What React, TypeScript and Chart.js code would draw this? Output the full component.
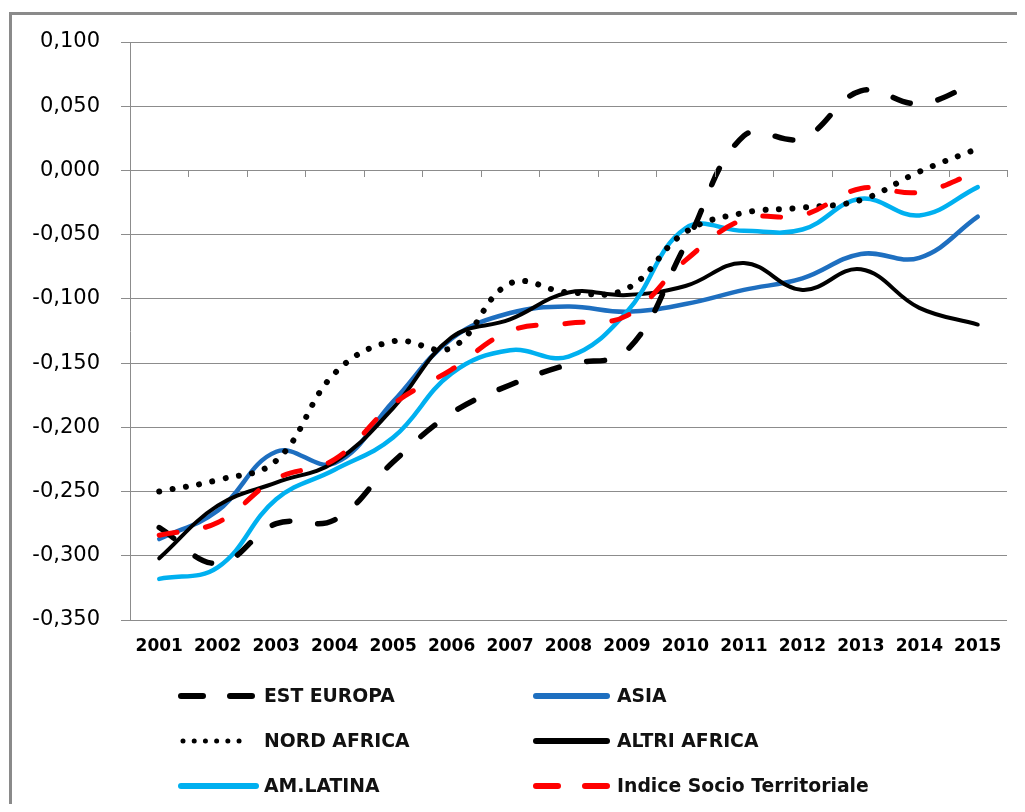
import React, { useEffect, useRef } from "react";
import { Chart, registerables } from "chart.js";

Chart.register(...registerables);

const years = ["2001", "2002", "2003", "2004", "2005", "2006", "2007", "2008", "2009", "2010", "2011", "2012", "2013", "2014", "2015"];

const estEuropa = [-0.278, -0.306, -0.275, -0.272, -0.227, -0.189, -0.167, -0.151, -0.140, -0.058, 0.027, 0.025, 0.062, 0.052, 0.069];
const asia = [-0.287, -0.265, -0.219, -0.228, -0.180, -0.131, -0.111, -0.106, -0.110, -0.104, -0.093, -0.084, -0.065, -0.068, -0.036];
const nordAfrica = [-0.250, -0.241, -0.226, -0.158, -0.133, -0.138, -0.088, -0.095, -0.092, -0.048, -0.033, -0.029, -0.023, -0.001, 0.017];
const altriAfrica = [-0.302, -0.261, -0.243, -0.227, -0.185, -0.130, -0.116, -0.095, -0.097, -0.090, -0.072, -0.093, -0.077, -0.107, -0.120];
const amLatina = [-0.318, -0.309, -0.256, -0.233, -0.208, -0.158, -0.140, -0.145, -0.110, -0.045, -0.047, -0.046, -0.022, -0.035, -0.013];
const indiceSocio = [-0.284, -0.274, -0.240, -0.225, -0.182, -0.155, -0.125, -0.119, -0.113, -0.070, -0.038, -0.035, -0.014, -0.017, -0.001];

const yTicks = { min: -0.35, max: 0.1, step: 0.05 };

const BLACK = "#000000";
const BLUE = "#1E6FC0";
const LIGHT_BLUE = "#00B0F0";
const RED = "#FF0000";
const GRID = "#8c8c8c";

type Style = { color: string; dash: number[]; width: number; legendDash: number[]; legendWidth: number };

const styles: Record<string, Style> = {
  est: { color: BLACK, dash: [18, 28], width: 5.5, legendDash: [22, 27], legendWidth: 6 },
  asia: { color: BLUE, dash: [], width: 4.5, legendDash: [], legendWidth: 6 },
  nord: { color: BLACK, dash: [0.01, 13.5], width: 6, legendDash: [0.01, 11.2], legendWidth: 5 },
  altri: { color: BLACK, dash: [], width: 4, legendDash: [], legendWidth: 6 },
  lat: { color: LIGHT_BLUE, dash: [], width: 4.5, legendDash: [], legendWidth: 6 },
  red: { color: RED, dash: [18, 29], width: 5, legendDash: [22, 27], legendWidth: 6 },
};

const legendItems: { label: string; key: string; col: number; row: number }[] = [
  { label: "EST EUROPA", key: "est", col: 0, row: 0 },
  { label: "ASIA", key: "asia", col: 1, row: 0 },
  { label: "NORD AFRICA", key: "nord", col: 0, row: 1 },
  { label: "ALTRI AFRICA", key: "altri", col: 1, row: 1 },
  { label: "AM.LATINA", key: "lat", col: 0, row: 2 },
  { label: "Indice Socio Territoriale", key: "red", col: 1, row: 2 },
];

const decor = {
  id: "decor",
  afterDraw(chart: any) {
    const ctx = chart.ctx as CanvasRenderingContext2D;
    const { chartArea, scales } = chart;
    const W = chart.width;
    const H = chart.height;
    // outer frame
    ctx.save();
    ctx.strokeStyle = "#8a8a8a";
    ctx.lineWidth = 3;
    ctx.beginPath();
    ctx.moveTo(2.5, H + 10);
    ctx.lineTo(2.5, 5.5);
    ctx.lineTo(W + 10, 5.5);
    ctx.stroke();
    ctx.restore();

    // x-axis tick marks at zero line
    const y0 = scales.y.getPixelForValue(0);
    const n = years.length;
    const step = (chartArea.right - chartArea.left) / n;
    ctx.save();
    ctx.strokeStyle = GRID;
    ctx.lineWidth = 1;
    ctx.beginPath();
    for (let i = 0; i <= n; i++) {
      const x = Math.round(chartArea.left + i * step) + 0.5;
      ctx.moveTo(x, Math.round(y0));
      ctx.lineTo(x, Math.round(y0) + 7);
    }
    ctx.stroke();
    ctx.restore();

    // legend
    const colX = [[170, 251, 256], [525, 602, 609]];
    const rowY = [688, 733, 778];
    for (const it of legendItems) {
      const st = styles[it.key];
      const [x1, x2, tx] = colX[it.col];
      const y = rowY[it.row];
      ctx.save();
      ctx.strokeStyle = st.color;
      ctx.lineWidth = st.legendWidth;
      ctx.lineCap = "round";
      ctx.setLineDash(st.legendDash);
      ctx.beginPath();
      if (it.key === "nord") {
        ctx.moveTo(175, y);
        ctx.lineTo(242, y);
      } else {
        ctx.moveTo(x1 + st.legendWidth / 2, y);
        ctx.lineTo(x2 - st.legendWidth / 2, y);
      }
      ctx.stroke();
      ctx.restore();

      ctx.save();
      ctx.fillStyle = "#111";
      ctx.font = "bold 20px 'DejaVu Sans', Verdana, sans-serif";
      ctx.textBaseline = "middle";
      ctx.textAlign = "left";
      ctx.translate(tx, y + 1);
      ctx.scale(0.94, 1);
      ctx.fillText(it.label, 0, 0);
      ctx.restore();
    }
  },
};

function mk(label: string, data: number[], key: string) {
  const st = styles[key];
  return {
    label,
    data,
    borderColor: st.color,
    backgroundColor: st.color,
    borderWidth: st.width,
    borderDash: st.dash,
    borderCapStyle: "round" as const,
    borderJoinStyle: "round" as const,
    pointRadius: 0,
    pointHoverRadius: 0,
    tension: 0.4,
    fill: false,
  };
}

export default function App() {
  const ref = useRef<HTMLCanvasElement | null>(null);
  useEffect(() => {
    if (!ref.current) return;
    const chart = new Chart(ref.current, {
      type: "line",
      data: {
        labels: years,
        datasets: [
          mk("Indice Socio Territoriale", indiceSocio, "red"),
          mk("EST EUROPA", estEuropa, "est"),
          mk("NORD AFRICA", nordAfrica, "nord"),
          mk("AM.LATINA", amLatina, "lat"),
          mk("ALTRI AFRICA", altriAfrica, "altri"),
          mk("ASIA", asia, "asia"),
        ],
      },
      options: {
        responsive: false,
        animation: false,
        devicePixelRatio: 1,
        layout: { padding: { left: 0, right: 18, top: 34, bottom: 144 } },
        plugins: { legend: { display: false }, tooltip: { enabled: false } },
        scales: {
          x: {
            type: "category",
            offset: true,
            grid: { display: false, drawTicks: false },
            border: { display: false },
            ticks: {
              color: "#000",
              font: { family: "'DejaVu Sans', Verdana, sans-serif", size: 17, weight: "bold" },
              padding: 16,
              maxRotation: 0,
              autoSkip: false,
            },
            afterFit: (s: any) => {
              s.height = 40;
            },
          },
          y: {
            min: yTicks.min,
            max: yTicks.max,
            ticks: {
              stepSize: yTicks.step,
              color: "#000",
              font: { family: "'DejaVu Sans', Verdana, sans-serif", size: 21 },
              padding: 21,
              callback: (v: any) => {
                const r = Math.round(Number(v) * 1000) / 1000;
                return (r === 0 ? "0.000" : r.toFixed(3)).replace(".", ",");
              },
            },
            grid: { color: GRID, lineWidth: 1, tickLength: 9, drawTicks: true },
            border: { display: true, color: GRID, width: 1 },
            afterFit: (s: any) => {
              s.width = 122;
            },
          },
        },
      },
      plugins: [decor],
    });
    return () => chart.destroy();
  }, []);
  return <canvas ref={ref} width={1017} height={796} style={{ display: "block" }} />;
}
